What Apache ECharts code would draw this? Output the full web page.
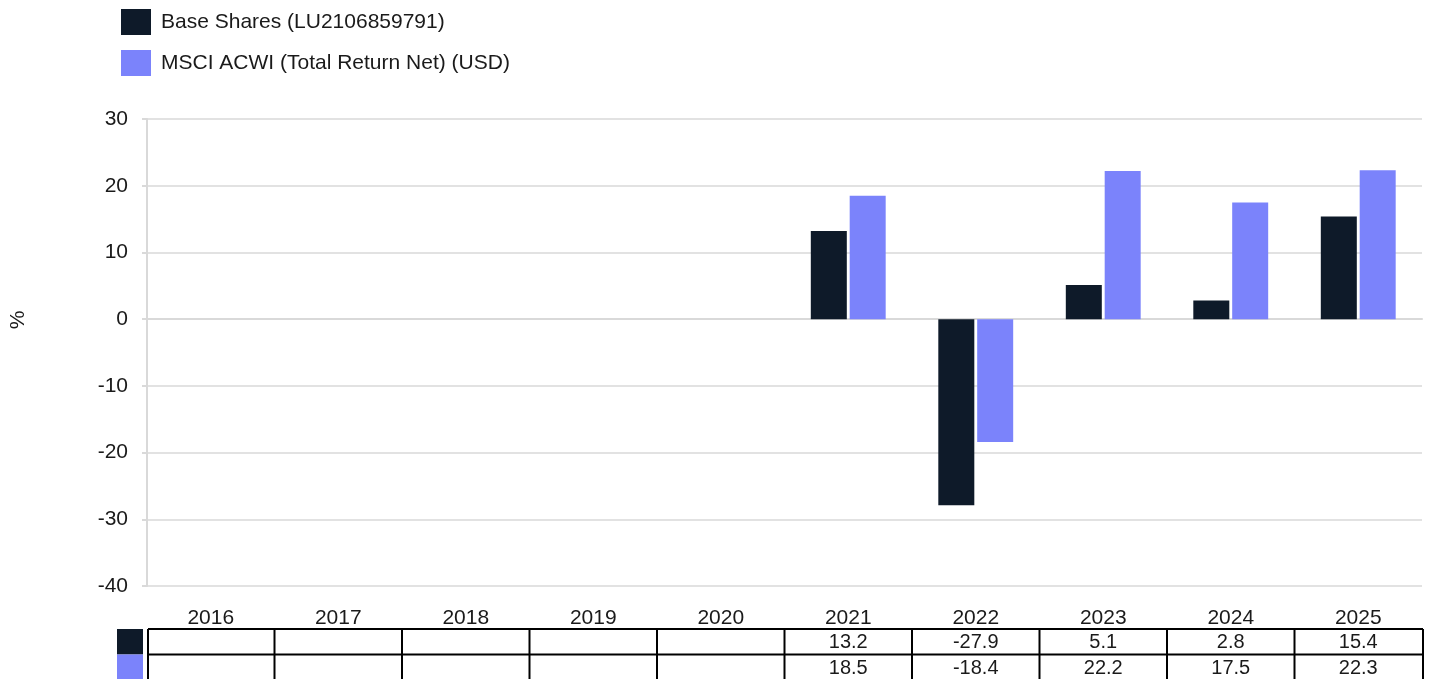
<!DOCTYPE html>
<html>
<head>
<meta charset="utf-8">
<script src="https://cdn.jsdelivr.net/npm/echarts@6/dist/echarts.min.js"></script>
<style>
  html, body { margin: 0; padding: 0; background: #fff; }
  #chart { width: 1431px; height: 679px; }
</style>
</head>
<body>
<div id="chart"></div>
<script>
// data
const years = ['2016', '2017', '2018', '2019', '2020', '2021', '2022', '2023', '2024', '2025'];
const baseShares = [null, null, null, null, null, 13.2, -27.9, 5.1, 2.8, 15.4];
const msciAcwi = [null, null, null, null, null, 18.5, -18.4, 22.2, 17.5, 22.3];
const seriesNames = ['Base Shares (LU2106859791)', 'MSCI ACWI (Total Return Net) (USD)'];
const yTicks = [-40, -30, -20, -10, 0, 10, 20, 30];

const colors = ['#0e1a29', '#7b83fb'];
const font = '"Liberation Sans", Arial, sans-serif';
const textColor = '#1a1a1a';

const chart = echarts.init(document.getElementById('chart'));

const option = {
    animation: false,
    textStyle: {fontFamily: font},
    color: colors,
    grid: {left: 147, right: 9, top: 119, bottom: 93},
    legend: {
        orient: 'vertical',
        left: 121,
        top: 9,
        padding: 0,
        itemWidth: 30,
        itemHeight: 26,
        itemGap: 15,
        icon: 'rect',
        textStyle: {fontSize: 21, color: textColor, fontFamily: font, padding: [0, 0, 0, 5]},
        data: seriesNames
    },
    xAxis: {
        type: 'category',
        data: years,
        axisLine: {show: true, lineStyle: {color: '#d9d9d9', width: 2}},
        axisTick: {show: false},
        axisLabel: {fontSize: 21, color: textColor, margin: 22, fontFamily: font}
    },
    yAxis: {
        type: 'value',
        min: yTicks[0],
        max: yTicks[yTicks.length - 1],
        interval: 10,
        axisLine: {show: true, lineStyle: {color: '#d9d9d9', width: 2}},
        axisTick: {show: true, length: 5, lineStyle: {color: '#d9d9d9', width: 2}},
        axisLabel: {fontSize: 21, color: textColor, margin: 19, fontFamily: font},
        splitLine: {show: true, lineStyle: {color: '#d9d9d9', width: 1.5}}
    },
    series: [
        {
            name: seriesNames[0],
            type: 'bar',
            data: baseShares,
            barWidth: 36,
            barGap: '8%',
            itemStyle: {color: colors[0]}
        },
        {
            name: seriesNames[1],
            type: 'bar',
            data: msciAcwi,
            barWidth: 36,
            barGap: '8%',
            itemStyle: {color: colors[1]}
        }
    ]
};

chart.setOption(option);

// data table under the x axis, columns follow the category axis
function buildTable() {
    const rows = [baseShares, msciAcwi];
    const rowTop = 629, rowH = 25.5;
    const c0 = chart.convertToPixel({xAxisIndex: 0}, 0);
    const c1 = chart.convertToPixel({xAxisIndex: 0}, 1);
    const band = c1 - c0;
    const left = c0 - band / 2 + 1;
    const right = chart.convertToPixel({xAxisIndex: 0}, years.length - 1) + band / 2 + 1;
    const els = [];
    const lineStyle = {stroke: '#000', lineWidth: 2};

    // y axis unit
    els.push({
        type: 'text',
        x: 18,
        y: 320,
        rotation: Math.PI / 2,
        style: {text: '%', fontSize: 21, fontFamily: font, fill: textColor, align: 'center', verticalAlign: 'middle'}
    });

    // swatches
    rows.forEach((r, i) => {
        els.push({
            type: 'rect',
            shape: {x: 117, y: rowTop + i * rowH, width: 26, height: rowH},
            style: {fill: colors[i]}
        });
    });
    // horizontal lines
    for (let i = 0; i <= rows.length; i++) {
        const y = rowTop + i * rowH;
        els.push({type: 'line', shape: {x1: left, y1: y, x2: right, y2: y}, style: lineStyle});
    }
    // vertical lines
    for (let k = 0; k <= years.length; k++) {
        const x = k === 0 ? left : (k === years.length ? right : c0 - band / 2 + k * band);
        els.push({type: 'line', shape: {x1: x, y1: rowTop, x2: x, y2: rowTop + rows.length * rowH}, style: lineStyle});
    }
    // values
    rows.forEach((r, i) => {
        r.forEach((v, k) => {
            if (v === null) return;
            els.push({
                type: 'text',
                x: chart.convertToPixel({xAxisIndex: 0}, k),
                y: rowTop + i * rowH + rowH / 2 + 1,
                style: {
                    text: v.toFixed(1),
                    fontSize: 20,
                    fontFamily: font,
                    fill: textColor,
                    align: 'center',
                    verticalAlign: 'middle'
                }
            });
        });
    });
    chart.setOption({graphic: {elements: els}});
}

buildTable();
</script>
</body>
</html>
